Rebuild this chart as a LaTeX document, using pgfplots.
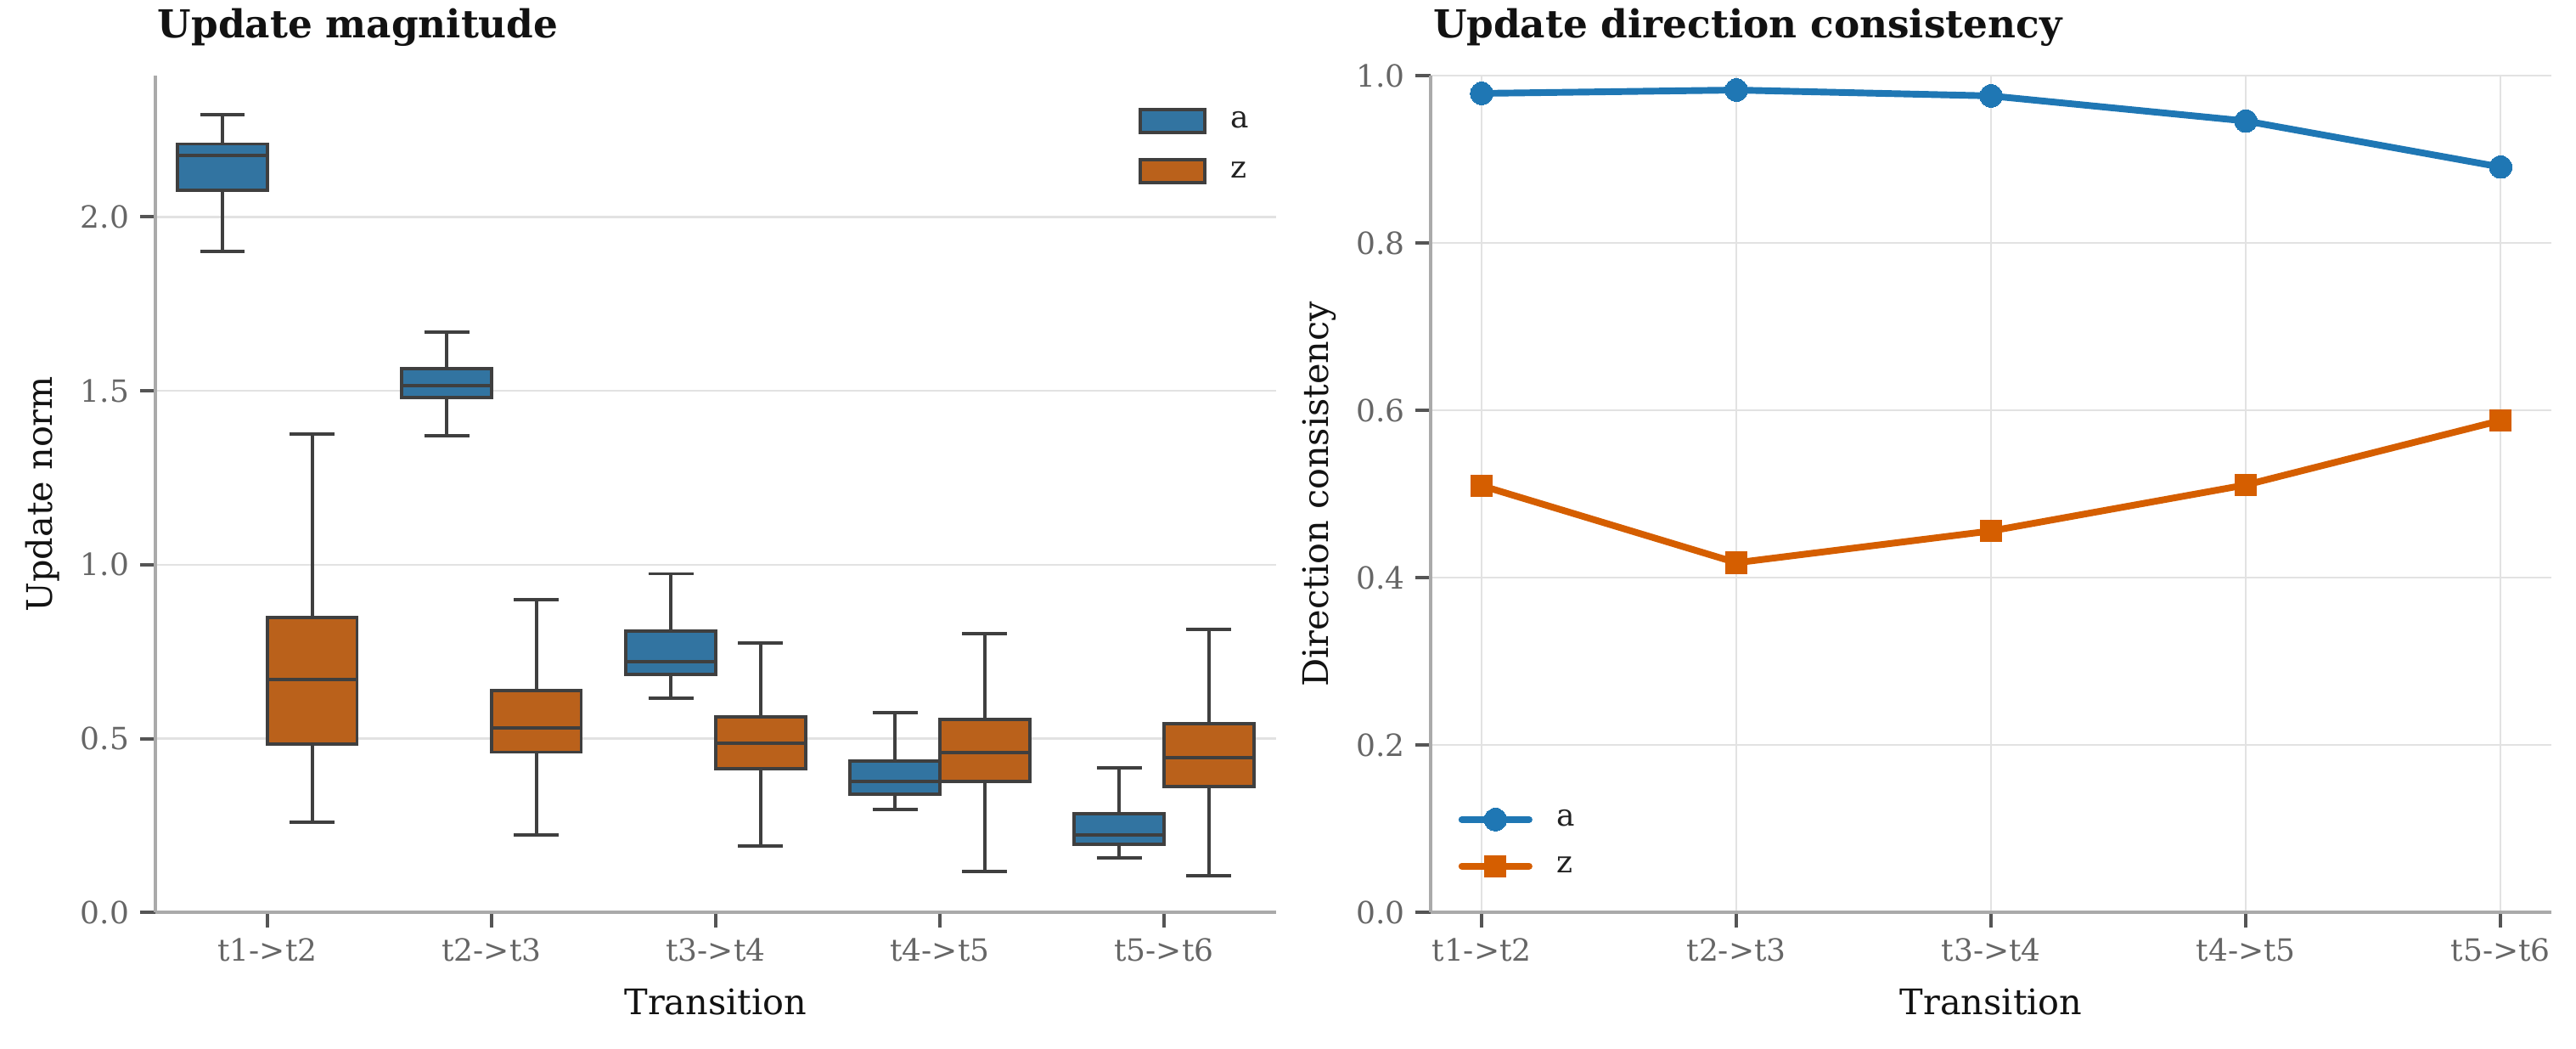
\documentclass[border=0pt]{standalone}
\usepackage{fontspec}
\setmainfont{DejaVu Serif}
\usepackage{pgfplots}
\pgfplotsset{compat=1.18}
\usepgfplotslibrary{statistics}

\definecolor{boxa}{HTML}{3274A1}
\definecolor{boxz}{HTML}{BA611B}
\definecolor{linea}{HTML}{1F77B4}
\definecolor{linez}{HTML}{D55E00}
\definecolor{edge}{HTML}{3F3F3F}
\definecolor{spine}{HTML}{AAAAAA}
\definecolor{gridc}{HTML}{E2E2E2}
\definecolor{tickc}{HTML}{555555}
\definecolor{ticklab}{HTML}{666666}

\pgfplotsset{
  common/.style={
    scale only axis, width=366.7pt, height=273.6pt, anchor=south west,
    axis lines=left, axis line style={-, spine, line width=1.2pt},
    tick align=outside, major tick length=5pt,
    tick style={tickc, line width=1.1pt},
    grid style={gridc, line width=0.6pt},
    ymin=0,
    xtick={0,...,4},
    xticklabels={{t1->t2},{t2->t3},{t3->t4},{t4->t5},{t5->t6}},
    ticklabel style={font=\fontsize{10}{12}\selectfont, text=ticklab},
    /pgf/number format/assume math mode=true,
    yticklabel style={/pgf/number format/fixed, /pgf/number format/fixed zerofill, /pgf/number format/precision=1},
    label style={font=\fontsize{11.5}{13}\selectfont, text=black!93},
    xlabel style={at={(axis description cs:0.5,0)}, anchor=base, yshift=-33.3pt},
    ylabel style={at={(axis description cs:-0.0916,0.5)}, anchor=base},
    title style={at={(axis description cs:0,1)}, anchor=base west, inner sep=0pt, xshift=0.6pt, yshift=6.4pt,
      font=\bfseries\fontsize{12.6}{15}\selectfont, text=black!93},
    legend style={draw=none, fill=none, inner sep=0pt, font=\fontsize{10}{12}\selectfont, text=black!87,
      nodes={inner sep=0pt, text height=6pt, text depth=1.5pt}, row sep=7.7pt, column sep=8pt},
    legend cell align=left,
  },
  boxstyle/.style={draw=edge, line width=1.1pt, solid, forget plot},
}

\begin{document}
\begin{tikzpicture}
\path[use as bounding box] (0,0) rectangle (842.8pt,342.8pt);

% left: update magnitude
\begin{axis}[common, at={(50.8pt,44.4pt)},
  xmin=-0.5, xmax=4.5, ymax=2.406,
  ytick={0,0.5,1.0,1.5,2.0},
  ymajorgrids,
  title={Update magnitude},
  xlabel={Transition}, ylabel={Update norm},
  legend style={at={(axis description cs:0.877,0.9627)}, anchor=north west},
  boxplot/draw direction=y,
  boxplot/box extend=0.4, boxplot/whisker extend=0.2,
]
\addplot[boxstyle, fill=boxa, boxplot prepared={draw position=-0.2, lower whisker=1.900, lower quartile=2.076, median=2.176, upper quartile=2.210, upper whisker=2.294}] coordinates {};
\addplot[boxstyle, fill=boxa, boxplot prepared={draw position=0.8, lower whisker=1.372, lower quartile=1.480, median=1.516, upper quartile=1.563, upper whisker=1.670}] coordinates {};
\addplot[boxstyle, fill=boxa, boxplot prepared={draw position=1.8, lower whisker=0.615, lower quartile=0.685, median=0.722, upper quartile=0.808, upper whisker=0.974}] coordinates {};
\addplot[boxstyle, fill=boxa, boxplot prepared={draw position=2.8, lower whisker=0.296, lower quartile=0.341, median=0.376, upper quartile=0.435, upper whisker=0.575}] coordinates {};
\addplot[boxstyle, fill=boxa, boxplot prepared={draw position=3.8, lower whisker=0.157, lower quartile=0.196, median=0.223, upper quartile=0.285, upper whisker=0.415}] coordinates {};

\addplot[boxstyle, fill=boxz, boxplot prepared={draw position=0.2, lower whisker=0.259, lower quartile=0.484, median=0.670, upper quartile=0.847, upper whisker=1.376}] coordinates {};
\addplot[boxstyle, fill=boxz, boxplot prepared={draw position=1.2, lower whisker=0.223, lower quartile=0.461, median=0.531, upper quartile=0.637, upper whisker=0.900}] coordinates {};
\addplot[boxstyle, fill=boxz, boxplot prepared={draw position=2.2, lower whisker=0.191, lower quartile=0.413, median=0.486, upper quartile=0.563, upper whisker=0.776}] coordinates {};
\addplot[boxstyle, fill=boxz, boxplot prepared={draw position=3.2, lower whisker=0.118, lower quartile=0.376, median=0.459, upper quartile=0.556, upper whisker=0.802}] coordinates {};
\addplot[boxstyle, fill=boxz, boxplot prepared={draw position=4.2, lower whisker=0.106, lower quartile=0.361, median=0.445, upper quartile=0.543, upper whisker=0.813}] coordinates {};

\addlegendimage{legend image code/.code={\draw[fill=boxa, draw=edge, line width=1.1pt] (0pt,-3.8pt) rectangle (21pt,3.8pt);}}
\addlegendentry{a}
\addlegendimage{legend image code/.code={\draw[fill=boxz, draw=edge, line width=1.1pt] (0pt,-3.8pt) rectangle (21pt,3.8pt);}}
\addlegendentry{z}
\end{axis}

% right: update direction consistency
\begin{axis}[common, at={(468.1pt,44.4pt)},
  xmin=-0.2, xmax=4.2, ymax=1.0,
  ytick={0,0.2,0.4,0.6,0.8,1.0},
  xmajorgrids, ymajorgrids,
  title={Update direction consistency},
  xlabel={Transition}, ylabel={Direction consistency},
  legend style={at={(axis description cs:0.0242,0.041)}, anchor=south west},
  legend image code/.code={\draw[mark repeat=2, mark phase=2, #1] plot coordinates {(0pt,0pt) (11pt,0pt) (22pt,0pt)};},
]
\addplot[linea, line width=2.2pt, line cap=round, mark=*, mark size=3.7pt, mark options={solid, fill=linea, draw=linea, line width=0pt}]
  coordinates {(0,0.979) (1,0.983) (2,0.976) (3,0.946) (4,0.891)};
\addlegendentry{a}
\addplot[linez, line width=2.2pt, line cap=round, mark=square*, mark size=3.5pt, mark options={solid, fill=linez, draw=linez, line width=0pt}]
  coordinates {(0,0.510) (1,0.418) (2,0.456) (3,0.511) (4,0.588)};
\addlegendentry{z}
\end{axis}
\end{tikzpicture}
\end{document}
